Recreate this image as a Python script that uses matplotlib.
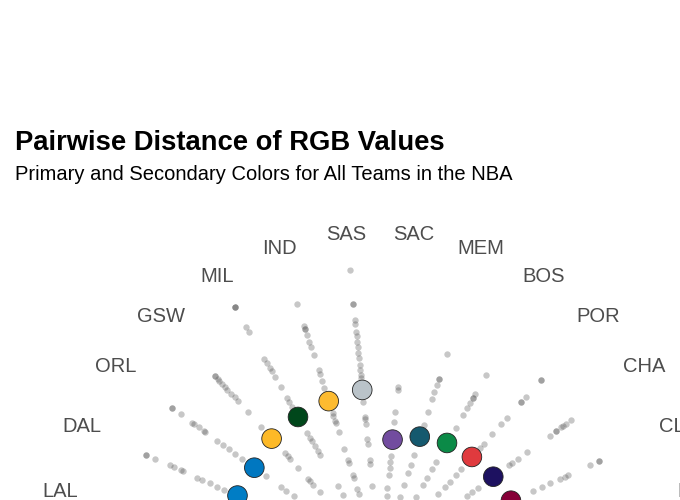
import numpy as np
import matplotlib
matplotlib.use("Agg")
import matplotlib.pyplot as plt

plt.rcParams['font.family'] = ['Liberation Sans', 'DejaVu Sans']

# teams in clockwise order, starting just right of 12 o'clock
teams = ["SAC", "MEM", "BOS", "POR", "CHA", "CLE",
         "HOU", "ATL", "NOP", "PHX", "MIA", "TOR", "CHI", "NYK", "WAS",
         "BKN", "DET", "UTA", "PHI", "OKC", "DEN", "MIN", "LAC",
         "LAL", "DAL", "ORL", "GSW", "MIL", "IND", "SAS"]

team_colors = ["#724C9F", "#15596E", "#0B8A47", "#E03A3E", "#1D1160", "#860038",
               "#CE1141", "#E03A3E", "#0C2340", "#1D1160", "#98002E", "#CE1141",
               "#CE1141", "#006BB6", "#002B5C", "#000000", "#C8102E", "#002B5C",
               "#006BB6", "#007AC1", "#0E2240", "#0C2340", "#C8102E",
               "#552583", "#007DC5", "#0077C0", "#FDB927", "#00471B", "#FDBB30", "#BAC3C9"]

# distance between each team's primary and secondary colour
team_dist = [180, 193, 201, 206, 210, 215,
             216, 217, 218, 219, 220, 221, 222, 223, 224,
             225, 226, 227, 228, 229, 230, 231, 231,
             232, 234, 233, 243, 246, 249, 255]

# distances from each team's colour to the other teams' colours
sac = [260, 255, 222, 207, 156, 147, 137, 126, 107, 95, 60, 40]
mem = [323, 284, 284, 275, 264, 252, 232, 212, 164, 149, 135, 117, 98, 70]
bos = [318, 285, 279, 279, 270, 261, 249, 227, 168, 156, 140, 128, 108, 80]
por = [361, 361, 327, 317, 317, 284, 272, 252, 233, 225, 182, 170, 156, 146, 131]
cha = [354, 345, 340, 336, 327, 327, 315, 273, 255, 245, 239, 182, 170, 162]
cle = [360, 360, 345, 308, 303, 296, 279, 266, 251, 180, 150]
hou = [250, 232, 210, 195, 180, 160, 140, 120]
atl = [262, 240, 222, 205, 188, 170, 150, 125]
nop = [300, 280, 262, 245, 230, 200, 180, 150]
phx = [310, 290, 270, 250, 232, 210, 190, 160]
mia = [290, 275, 255, 240, 222, 200, 175, 140]
tor = [270, 252, 238, 220, 205, 185, 165, 135]
chi = [330, 300, 280, 262, 240, 215, 190, 170]
nyk = [320, 295, 275, 258, 236, 214, 192, 168]
was = [305, 286, 270, 252, 235, 212, 188, 160]
bkn = [380, 350, 322, 300, 280, 250, 220, 190]
det = [315, 296, 278, 260, 242, 220, 196, 172]
uta = [326, 304, 286, 266, 248, 224, 200, 176]
phi = [334, 312, 290, 270, 250, 228, 204, 180]
okc = [340, 318, 296, 276, 255, 232, 208, 182]
den = [350, 326, 304, 282, 260, 236, 210, 186]
mn = [356, 332, 310, 288, 266, 240, 214, 190]
lac = [364, 340, 318, 294, 270, 246, 220, 194]
lal = [396, 380, 362, 340, 318, 290, 262, 214, 186, 152]
dal = [385, 385, 369, 345, 338, 327, 324, 300, 292, 279, 267, 256, 195, 165, 135]
orl = [385, 385, 369, 348, 345, 336, 327, 324, 302, 292, 280, 268, 255, 212, 183, 174, 160]
gsw = [370, 370, 364, 360, 354, 348, 342, 333, 326, 318, 297, 267, 213, 207, 201, 183, 162, 158, 150, 135]
mil = [436, 436, 436, 401, 394, 347, 340, 331, 325, 316, 298, 279, 272, 264,
       218, 210, 204, 195, 187, 180, 126, 111]
ind = [402, 368, 362, 362, 354, 343, 334, 322, 298, 291, 280, 270,
       230, 226, 218, 214, 200, 173, 156, 151, 132, 128, 111, 102]
sas = [436, 384, 384, 360, 355, 343, 336, 328, 320, 310, 303, 292, 285, 278, 273,
       237, 214, 211, 204, 181, 174, 150, 144, 110, 80, 66]

pair_dist = [sac, mem, bos, por, cha, cle, hou, atl, nop, phx, mia, tor, chi, nyk,
             was, bkn, det, uta, phi, okc, den, mn, lac, lal, dal, orl, gsw, mil,
             ind, sas]

n = len(teams)
angles = 2 * np.pi * (np.arange(n) + 0.5) / n

fig = plt.figure(figsize=(6.8, 5), dpi=100)
fig.patch.set_facecolor("white")

# polar panel centred below the visible area
r_max = 440
r_px = r_max / 1.5
cx, cy = 380, 559
ax = fig.add_axes([(cx - r_px) / 680, (500 - cy - r_px) / 500,
                   2 * r_px / 680, 2 * r_px / 500], projection="polar")
ax.set_theta_zero_location("N")
ax.set_theta_direction(-1)
ax.set_ylim(0, r_max)
ax.set_axis_off()

for th, dists in zip(angles, pair_dist):
    ax.scatter(np.full(len(dists), th), dists, s=21, color="#555555",
               alpha=0.33, linewidths=0, zorder=2)

ax.scatter(angles, team_dist, s=200, c=team_colors, edgecolors="#222222",
           linewidths=0.6, zorder=3)

for th, name in zip(angles, teams):
    ax.text(th, 490, name, ha="center", va="center", fontsize=14.5,
            color="#4d4d4d", clip_on=False)

fig.text(15 / 680, (500 - 150) / 500, "Pairwise Distance of RGB Values",
         fontsize=19.7, fontweight="bold", va="baseline", ha="left")
fig.text(15 / 680, (500 - 180) / 500,
         "Primary and Secondary Colors for All Teams in the NBA",
         fontsize=14.5, va="baseline", ha="left")

fig.savefig("out.png", dpi=100, facecolor="white")
